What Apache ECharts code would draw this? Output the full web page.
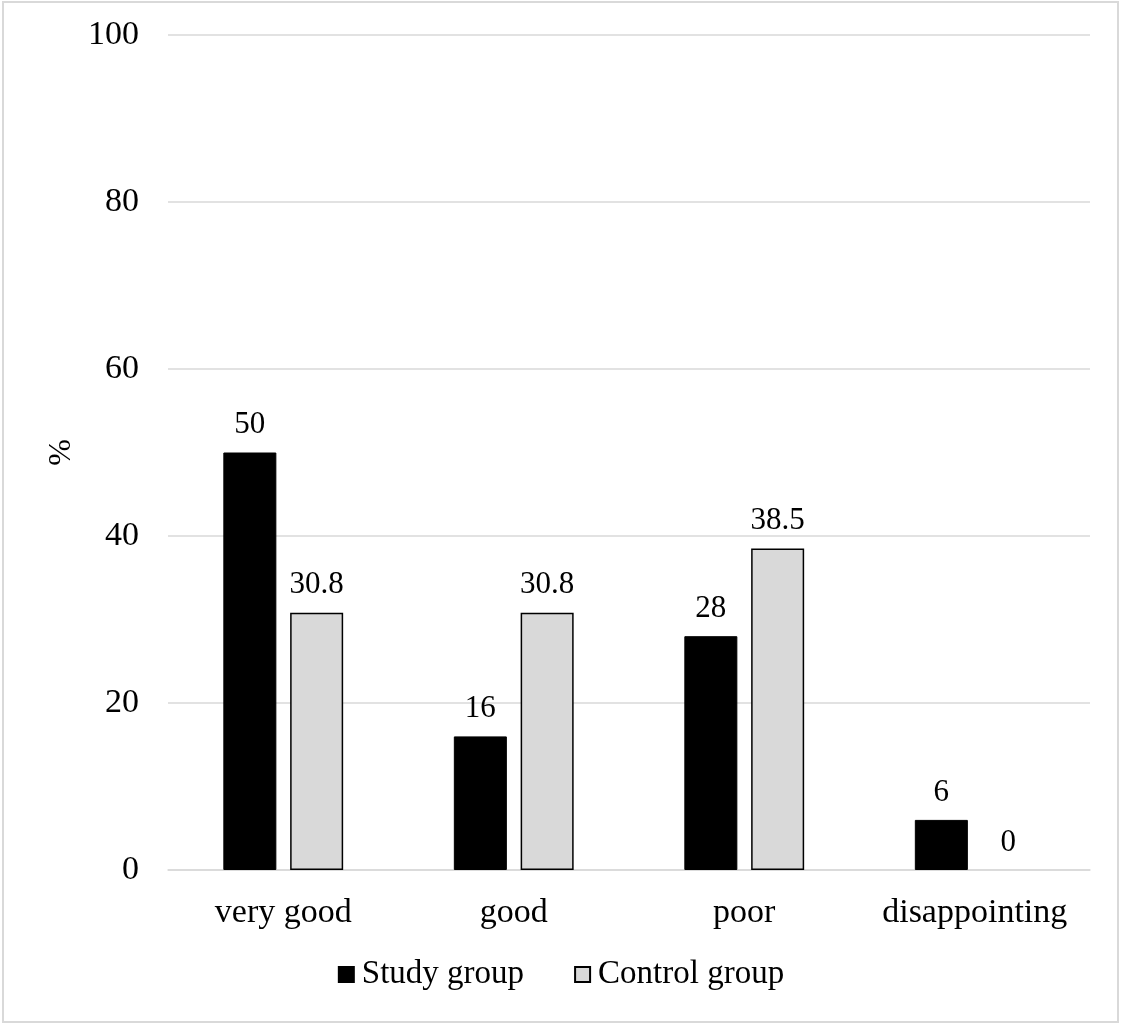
<!DOCTYPE html>
<html>
<head>
<meta charset="utf-8">
<script src="https://cdn.jsdelivr.net/npm/echarts@6/dist/echarts.min.js"></script>
<style>html,body{margin:0;padding:0;background:#fff;}#c{width:1122px;height:1026px;}</style>
</head>
<body>
<div id="c"></div>
<script>
const categories = ['very good', 'good', 'poor', 'disappointing'];
const studyGroup = [50, 16, 28, 6];
const controlGroup = [30.8, 30.8, 38.5, 0];
const yTicks = [0, 20, 40, 60, 80, 100];

const font = '"Liberation Serif", "Times New Roman", serif';
const chart = echarts.init(document.getElementById('c'));
const hideZero = arr => arr.map(v => v === 0 ? { value: v, itemStyle: { borderWidth: 0 } } : v);
chart.setOption({
  animation: false,
  backgroundColor: '#fff',
  textStyle: { fontFamily: font, color: '#000' },
  graphic: [{
    type: 'rect', shape: { x: 3, y: 2, width: 1115, height: 1020 },
    style: { fill: 'none', stroke: '#d9d9d9', lineWidth: 2 }, silent: true
  }],
  grid: { left: 168, right: 32, top: 35, bottom: 156, containLabel: false },
  legend: {
    bottom: 30, left: 'center',
    itemWidth: 15, itemHeight: 15, itemGap: 50,
    icon: 'rect',
    textStyle: { fontFamily: font, fontSize: 33, color: '#000', padding: [0, 0, 0, 3] },
    data: ['Study group', 'Control group']
  },
  xAxis: {
    type: 'category', data: categories,
    axisLine: { show: true, lineStyle: { color: '#d9d9d9', width: 1.5 } },
    axisTick: { show: false },
    axisLabel: { fontFamily: font, fontSize: 34, color: '#000', margin: 26, interval: 0 }
  },
  yAxis: {
    type: 'value', min: 0, max: 100, interval: 20,
    name: '%', nameLocation: 'middle', nameGap: 90, nameRotate: 90,
    nameTextStyle: { fontFamily: font, fontSize: 32, color: '#000' },
    axisLine: { show: false }, axisTick: { show: false },
    splitLine: { lineStyle: { color: '#d9d9d9', width: 1.5 } },
    axisLabel: {
      fontFamily: font, fontSize: 34, color: '#000', margin: 29,
      formatter: v => yTicks.includes(v) ? String(v) : ''
    }
  },
  series: [{
    name: 'Study group', type: 'bar', data: studyGroup,
    barWidth: '23%', barGap: '26%',
    itemStyle: { color: '#000', borderColor: '#000', borderWidth: 1 },
    label: { show: true, position: 'top', distance: 12, fontFamily: font, fontSize: 31, color: '#000' }
  }, {
    name: 'Control group', type: 'bar', data: hideZero(controlGroup),
    barWidth: '23%',
    itemStyle: { color: '#d9d9d9', borderColor: '#000', borderWidth: 1.5 },
    label: { show: true, position: 'top', distance: 12, fontFamily: font, fontSize: 31, color: '#000' }
  }]
});
</script>
</body>
</html>
